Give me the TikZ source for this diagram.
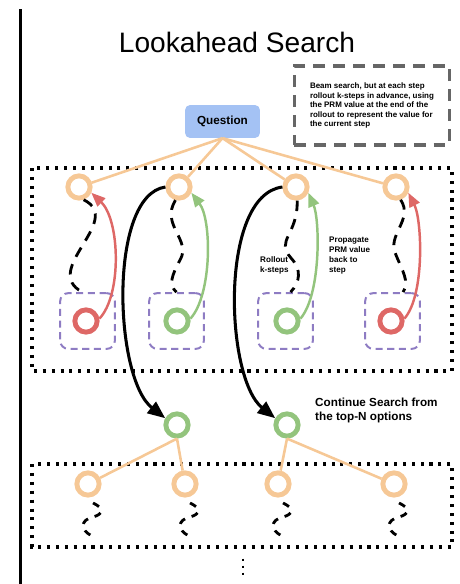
\documentclass[tikz,border=0pt]{standalone}
\usepackage{fontspec}
\setmainfont{Liberation Sans}
\usetikzlibrary{arrows.meta}

\definecolor{peach}{RGB}{246,200,150}
\definecolor{rollred}{RGB}{222,104,102}
\definecolor{rollgreen}{RGB}{147,196,125}
\definecolor{boxpurple}{RGB}{142,124,195}
\definecolor{qblue}{RGB}{164,194,244}
\definecolor{notegray}{RGB}{102,102,102}

\tikzset{
  ring/.style={circle, draw=#1, fill=white, line width=4.2pt, minimum size=19pt, inner sep=0pt},
  rollbox/.style={draw=boxpurple, dash pattern=on 6pt off 4pt, line width=1.7pt, rounded corners=7pt,
    minimum width=46.7pt, minimum height=47.6pt},
  dotbox/.style={line width=2.6pt, dash pattern=on 2.6pt off 5pt},
  branch/.style={peach, line width=2.2pt},
  rollout/.style={line width=2.4pt, dash pattern=on 9pt off 7pt},
  backup/.style={draw=#1, line width=2.1pt, -{Triangle[length=12pt,width=9.5pt]}},
  jump/.style={line width=2.6pt, -{Triangle[length=15pt,width=12pt]}},
  tag/.style={font=\bfseries\fontsize{6.9}{8.5}\selectfont, align=left, anchor=west, inner sep=0pt},
}

\begin{document}
\begin{tikzpicture}[x=0.03cm, y=0.03cm]
	\useasboundingbox (0,0) rectangle (460,-584);
	\draw [line width=3.4pt] (20.5,-9) -- (20.5,-584);

	\node [font=\fontsize{24}{28}\selectfont] (title) at (237,-42) {Lookahead Search};
	\node [draw=notegray, line width=3pt, dash pattern=on 10pt off 7pt, minimum width=132.6pt, minimum height=67pt,
	  align=left, font=\bfseries\fontsize{6.8}{8.1}\selectfont] (note) at (372,-105.5)
	  {Beam search, but at each step\\rollout k-steps in advance, using\\the PRM value at the end of the\\rollout to represent the value for\\the current step};
	\node [fill=qblue, rounded corners=4pt, minimum width=63.75pt, minimum height=28pt,
	  font=\bfseries\fontsize{10}{12}\selectfont] (Q) at (222.5,-121.5) {Question};

	% first level and its rollouts
	\draw [dotbox] (32,-168) rectangle (452,-371);
	\node [ring=peach] (T1) at (79,-187) {};
	\node [ring=peach] (T2) at (179,-187) {};
	\node [ring=peach] (T3) at (296,-187) {};
	\node [ring=peach] (T4) at (396,-187) {};
	\foreach \t in {T1,T2,T3,T4}
		\draw [branch] (Q.south) -- (\t);

	\node [rollbox] (B1box) at (87.5,-321) {};
	\node [rollbox] (B2box) at (176.5,-321) {};
	\node [rollbox] (B3box) at (285.5,-321) {};
	\node [rollbox] (B4box) at (392.5,-321) {};
	\node [ring=rollred] (B1) at (86,-321) {};
	\node [ring=rollgreen] (B2) at (177,-321) {};
	\node [ring=rollgreen] (B3) at (287,-321) {};
	\node [ring=rollred] (B4) at (391,-321) {};

	\draw [rollout] (T1.-70) .. controls (125,-220) and (40,-270) .. (B1box.100);
	\draw [rollout] (T2.-105) .. controls (160,-225) and (192,-240) .. (180,-260)
	  .. controls (172,-275) and (168,-285) .. (B2box.north);
	\draw [rollout] (T3.-85) .. controls (298,-235) and (275,-240) .. (291,-258)
	  .. controls (302,-270) and (300,-282) .. (B3box.80);
	\draw [rollout] (T4.-70) .. controls (414,-220) and (386,-235) .. (396,-255)
	  .. controls (402,-270) and (410,-282) .. (B4box.70);

	\draw [backup=rollred] (B1.10) .. controls (122,-295) and (120,-220) .. (T1.-25);
	\draw [backup=rollgreen] (B2.10) .. controls (212,-295) and (212,-220) .. (T2.-25);
	\draw [backup=rollgreen] (B3.10) .. controls (321,-295) and (320,-220) .. (T3.-25);
	\draw [backup=rollred] (B4.10) .. controls (425,-295) and (422,-220) .. (T4.-25);

	\node [tag] (rolltag) at (260,-265) {Rollout\\k-steps};
	\node [tag] (proptag) at (329,-255.5) {Propagate\\PRM value\\back to\\step};

	% top-N continue
	\node [ring=rollgreen] (G1) at (177,-425) {};
	\node [ring=rollgreen] (G2) at (287,-425) {};
	\draw [jump] (T2.west) .. controls (108,-195) and (114,-378) .. (G1.150);
	\draw [jump] (T3.west) .. controls (219,-195) and (225,-378) .. (G2.150);
	\node [tag, font=\bfseries\fontsize{10}{12.5}\selectfont] (conttag) at (315,-410.5)
	  {Continue Search from\\the top-N options};

	% next level
	\draw [dotbox] (32,-464) rectangle (452,-547);
	\node [ring=peach] (C1) at (88,-484) {};
	\node [ring=peach] (C2) at (185,-484) {};
	\node [ring=peach] (C3) at (278,-484) {};
	\node [ring=peach] (C4) at (394,-484) {};
	\draw [branch] (G1.south) -- (C1);
	\draw [branch] (G1.south) -- (C2);
	\draw [branch] (G2.south) -- (C3);
	\draw [branch] (G2.south) -- (C4);
	\foreach \c in {C1,C2,C3,C4}
		\draw [rollout, shift={(\c)}, dash pattern=on 6pt off 6pt] (5,-19) .. controls (16,-24) and (16,-30) .. (5,-33)
		  .. controls (-8,-36) and (-8,-46) .. (4,-52);

	\draw [line width=2.5pt, dash pattern=on 2.5pt off 3.5pt] (243,-558.5) -- (243,-576);
\end{tikzpicture}
\end{document}
